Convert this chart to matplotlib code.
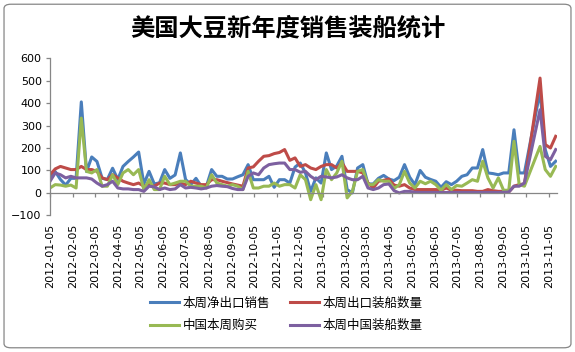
import matplotlib
matplotlib.use('Agg')
import pandas as pd
import matplotlib.pyplot as plt
import matplotlib.dates as mdates
from matplotlib.patches import FancyBboxPatch

TITLE = "美国大豆新年度销售装船统计"
NAMES = ["本周净出口销售", "本周出口装船数量", "中国本周购买", "本周中国装船数量"]
COLORS = ["#4A7EBB", "#BE4B48", "#98B954", "#7D60A0"]

# weekly (thursday) reports, two weeks missing during the Oct 2013 shutdown
weeks = pd.date_range('2012-01-05', '2013-11-14', freq='7D')
missing_weeks = ['2013-10-10', '2013-10-17']
weeks = weeks.drop(pd.to_datetime(missing_weeks))

net_sales = [70, 95, 60, 35, 65, 65, 405, 95, 160, 140, 65, 60, 110, 60, 118, 140, 160, 182, 40, 96,
             40, 45, 104, 65, 80, 178, 60, 37, 65, 30, 30, 104, 74,
             74, 62, 62, 72, 81, 126, 59, 59, 59, 74, 25, 59, 59, 44, 115, 133, 89, 7, 67, 44, 178,
             104, 120, 163, 15, 0, 111, 126, 40, 40, 65, 78,
             62, 55, 70, 126, 70, 37, 100, 70, 60, 52, 25, 50, 37, 52, 74, 81, 111, 111, 193, 89,
             86, 81, 89, 89, 281, 89, 89,
             452, 193, 118, 141]
shipments = [81, 107, 118, 111, 104, 104, 118, 104, 104, 96, 67, 59, 81, 67, 52, 44, 37, 44, 30, 37,
             30, 44, 44, 37, 37, 44, 37, 52, 44, 37, 37, 59, 59,
             52, 46, 40, 35, 30, 111, 116, 141, 163, 166, 175, 180, 193, 145, 156, 118, 126, 111, 104,
             118, 126, 126, 111, 135, 96, 96, 96, 89, 44, 22, 52, 56,
             62, 35, 30, 37, 22, 15, 15, 15, 15, 15, 12, 22, 12, 12, 10, 10, 10, 7, 7, 15,
             10, 7, 7, 4, 30, 37, 40,
             511, 215, 200, 252]
china_buy = [22, 37, 35, 30, 35, 22, 333, 96, 89, 104, 30, 30, 81, 37, 89, 104, 81, 104, 15, 59,
             15, 15, 74, 37, 44, 52, 52, 30, 30, 30, 22, 81, 44,
             37, 30, 37, 30, 15, 96, 22, 22, 30, 30, 44, 30, 37, 37, 22, 81, 59, -30, 37, -30, 104,
             59, 89, 141, -22, 7, 96, 104, 37, 37, 59, 52,
             52, 20, 37, 96, 44, 22, 52, 41, 52, 37, 12, 37, 15, 33, 30, 44, 59, 52, 141, 67,
             22, 67, 12, 12, 230, 37, 30,
             207, 104, 74, 118]
china_ship = [52, 89, 81, 67, 74, 67, 67, 67, 62, 44, 30, 37, 52, 22, 18, 18, 15, 15, 7, 30,
              27, 15, 22, 15, 18, 37, 22, 25, 22, 18, 22, 30, 33,
              30, 28, 20, 15, 15, 74, 89, 81, 111, 126, 130, 133, 133, 104, 104, 92, 96, 74, 59, 74,
              71, 67, 71, 81, 67, 59, 59, 74, 22, 15, 22, 37,
              40, 10, 0, 7, 7, 3, 2, 2, 2, 2, 2, 2, 2, 2, 2, 2, 2, 2, 2, 2,
              2, 2, 3, 4, 30, 30, 44,
              370, 163, 148, 193]

plt.rcParams['font.family'] = ['DejaVu Sans']
AXIS_GREY = '#868686'

fig = plt.figure(figsize=(5.75, 3.52), dpi=100)
ax = fig.add_axes([0.087, 0.388, 0.882, 0.447])

lines = []
for vals, name, c in zip([net_sales, shipments, china_buy, china_ship], NAMES, COLORS):
    ln, = ax.plot(weeks, vals, color=c, lw=2.2, label=name, solid_joinstyle='round')
    lines.append(ln)

ax.set_ylim(-100, 600)
ax.set_yticks(range(-100, 601, 100))
ax.set_xlim(pd.Timestamp('2012-01-05'), pd.Timestamp('2013-11-16'))
ax.xaxis.set_major_locator(mdates.MonthLocator(bymonthday=5))
ax.xaxis.set_major_formatter(mdates.DateFormatter('%Y-%m-%d'))

for s in ['top', 'right']:
    ax.spines[s].set_visible(False)
ax.spines['bottom'].set_position(('data', 0))
for s in ['left', 'bottom']:
    ax.spines[s].set_color(AXIS_GREY)
    ax.spines[s].set_linewidth(0.9)

ax.tick_params(axis='y', direction='out', length=3, width=0.9, color=AXIS_GREY, labelsize=8, pad=3)
ax.tick_params(axis='x', direction='out', length=3, width=0.9, color=AXIS_GREY, labelsize=8,
               pad=19, labelrotation=90)

fig.text(0.5, 0.92, TITLE, ha='center', va='center', fontsize=17.5, fontweight='bold',
         family=['Noto Sans CJK SC', 'DejaVu Sans'])

order = [0, 2, 1, 3]
fig.legend([lines[i] for i in order], [NAMES[i] for i in order], loc='center',
           bbox_to_anchor=(0.498, 0.107), ncol=2, frameon=False, handlelength=2.3,
           columnspacing=1.6, labelspacing=0.75, handletextpad=0.3,
           prop={'family': ['Noto Sans CJK SC', 'DejaVu Sans'], 'size': 9})

border = FancyBboxPatch((0.007, 0.012), 0.986, 0.976, boxstyle='round,pad=0,rounding_size=0.012',
                        transform=fig.transFigure, fill=False, edgecolor=AXIS_GREY, lw=0.9)
fig.patches.append(border)

fig.savefig('out.png', dpi=100)
